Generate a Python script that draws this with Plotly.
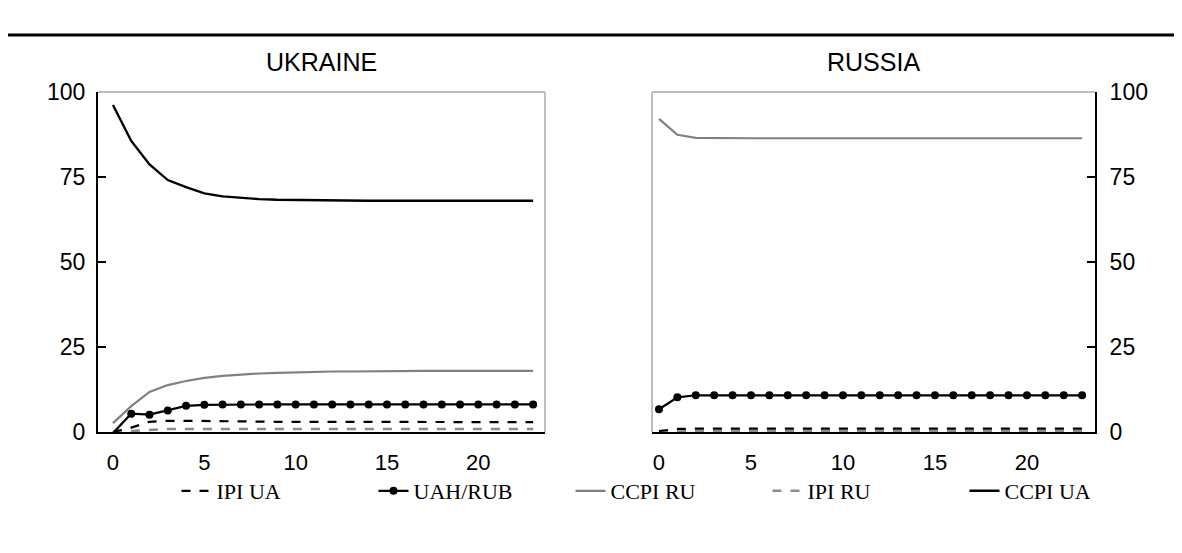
import plotly.graph_objects as go

months = list(range(24))

# Ukraine panel
ua_ipi_ua = [0.0, 1.3, 3.0, 3.3, 3.3, 3.2, 3.2, 3.1, 3.1, 3.0, 3.0, 3.0, 3.0, 3.0, 2.9, 2.9, 2.9, 2.9, 2.9, 2.9, 2.9, 2.9, 2.9, 2.9]
ua_uahrub = [-0.3, 5.4, 5.1, 6.3, 7.7, 8.0, 8.1, 8.1, 8.1, 8.1, 8.1, 8.1, 8.1, 8.1, 8.1, 8.1, 8.1, 8.1, 8.1, 8.1, 8.1, 8.1, 8.1, 8.1]
ua_ccpi_ru = [2.6, 7.6, 11.8, 13.8, 15.0, 15.9, 16.5, 16.9, 17.2, 17.4, 17.6, 17.7, 17.8, 17.8, 17.9, 17.9, 18.0, 18.0, 18.0, 18.0, 18.0, 18.0, 18.0, 18.0]
ua_ipi_ru = [0.0, 0.3, 0.8, 0.9, 0.9, 0.9, 0.9, 0.9, 0.9, 0.9, 0.9, 0.9, 0.9, 0.9, 0.9, 0.9, 0.9, 0.9, 0.9, 0.9, 0.9, 0.9, 0.9, 0.9]
ua_ccpi_ua = [96.2, 85.6, 78.7, 74.1, 72.0, 70.2, 69.3, 68.8, 68.5, 68.3, 68.2, 68.1, 68.1, 68.0, 68.0, 68.0, 68.0, 68.0, 68.0, 68.0, 68.0, 68.0, 68.0, 68.0]

# Russia panel
ru_ipi_ua = [0.3, 0.9, 1.0, 1.0, 1.0, 1.0, 1.0, 1.0, 1.0, 1.0, 1.0, 1.0, 1.0, 1.0, 1.0, 1.0, 1.0, 1.0, 1.0, 1.0, 1.0, 1.0, 1.0, 1.0]
ru_uahrub = [6.7, 10.2, 10.8, 10.8, 10.8, 10.8, 10.8, 10.8, 10.8, 10.8, 10.8, 10.8, 10.8, 10.8, 10.8, 10.8, 10.8, 10.8, 10.8, 10.8, 10.8, 10.8, 10.8, 10.8]
ru_ccpi_ru = [92.1, 87.4, 86.5, 86.4, 86.4, 86.4, 86.4, 86.4, 86.4, 86.4, 86.4, 86.4, 86.4, 86.4, 86.4, 86.4, 86.4, 86.4, 86.4, 86.4, 86.4, 86.4, 86.4, 86.4]
ru_ipi_ru = [0.0, 0.2, 0.3, 0.3, 0.3, 0.3, 0.3, 0.3, 0.3, 0.3, 0.3, 0.3, 0.3, 0.3, 0.3, 0.3, 0.3, 0.3, 0.3, 0.3, 0.3, 0.3, 0.3, 0.3]
ru_ccpi_ua = [-0.4] * 24

panel_titles = ["UKRAINE", "RUSSIA"]
y_ticks = [0, 25, 50, 75, 100]
x_ticks = [0, 5, 10, 15, 20]

styles = {
    "IPI UA": dict(color="black", width=2.2, dash="dash", marker=False),
    "UAH/RUB": dict(color="black", width=2.2, dash="solid", marker=True),
    "CCPI RU": dict(color="#808080", width=2.2, dash="solid", marker=False),
    "IPI RU": dict(color="#8c8c8c", width=2.6, dash="dash", marker=False),
    "CCPI UA": dict(color="black", width=2.4, dash="solid", marker=False),
}

panels = [
    ("x", "y", {"IPI UA": ua_ipi_ua, "UAH/RUB": ua_uahrub, "CCPI RU": ua_ccpi_ru, "IPI RU": ua_ipi_ru, "CCPI UA": ua_ccpi_ua}, True),
    ("x2", "y2", {"IPI UA": ru_ipi_ua, "UAH/RUB": ru_uahrub, "CCPI RU": ru_ccpi_ru, "IPI RU": ru_ipi_ru, "CCPI UA": ru_ccpi_ua}, False),
]

fig = go.Figure()
draw_order = ["IPI RU", "IPI UA", "CCPI RU", "CCPI UA", "UAH/RUB"]
legend_order = ["IPI UA", "UAH/RUB", "CCPI RU", "IPI RU", "CCPI UA"]
for xa, ya, series, show in panels:
    for name in draw_order:
        st = styles[name]
        fig.add_trace(go.Scatter(
            x=months, y=series[name], name=name, xaxis=xa, yaxis=ya,
            mode="lines+markers" if st["marker"] else "lines",
            line=dict(color=st["color"], width=st["width"], dash=st["dash"]),
            marker=dict(size=8, color="black"),
            cliponaxis=False,
            showlegend=show,
            legendrank=legend_order.index(name) + 1,
        ))

W, H = 1182, 553
OFF = 8  # page body margin shifts the figure by this many px


def px_x(p):
    return (p - OFF) / W


def px_y(p):
    return 1 - (p - OFF) / H


axis_font = dict(family="Liberation Sans, Arial", size=23, color="black")
xtick_font = dict(family="Liberation Sans, Arial", size=22, color="black")

fig.update_layout(
    template="none",
    width=W, height=H,
    margin=dict(l=0, r=0, t=0, b=0, autoexpand=False),
    paper_bgcolor="white", plot_bgcolor="white",
    xaxis=dict(domain=[px_x(98), px_x(545)], range=[-0.82, 23.65], tickvals=x_ticks,
               showgrid=False, zeroline=False, showline=True, linecolor="black", linewidth=2,
               ticks="", tickfont=xtick_font, ticklabelstandoff=10, anchor="y", automargin=False),
    yaxis=dict(domain=[px_y(432), px_y(92)], range=[0, 100], tickvals=y_ticks,
               showgrid=False, zeroline=False, showline=True, linecolor="black", linewidth=2,
               ticks="inside", ticklen=8, tickwidth=2, tickcolor="black",
               tickfont=axis_font, ticklabelstandoff=6, anchor="x", automargin=False),
    xaxis2=dict(domain=[px_x(652), px_x(1095)], range=[-0.38, 23.7], tickvals=x_ticks,
                showgrid=False, zeroline=False, showline=True, linecolor="black", linewidth=2,
                ticks="", tickfont=xtick_font, ticklabelstandoff=10, anchor="y2", automargin=False),
    yaxis2=dict(domain=[px_y(432), px_y(92)], range=[0, 100], tickvals=y_ticks, side="right",
                showgrid=False, zeroline=False, showline=True, linecolor="black", linewidth=2,
                ticks="inside", ticklen=8, tickwidth=2, tickcolor="black",
                tickfont=axis_font, ticklabelstandoff=8, anchor="x2", automargin=False),
    legend=dict(orientation="h", x=px_x(669), xanchor="center", y=px_y(491), yanchor="middle",
                font=dict(family="Liberation Serif, Times New Roman", size=22, color="black"),
                entrywidth=152, entrywidthmode="pixels", traceorder="normal",
                bgcolor="rgba(0,0,0,0)"),
    showlegend=True,
)

shapes = []
gray = "#bfbfbf"
shapes.append(dict(type="line", xref="x domain", yref="y domain", x0=0, x1=1, y0=1, y1=1, line=dict(color=gray, width=2)))
shapes.append(dict(type="line", xref="x domain", yref="y domain", x0=1, x1=1, y0=0, y1=1, line=dict(color=gray, width=2)))
shapes.append(dict(type="line", xref="x2 domain", yref="y2 domain", x0=0, x1=1, y0=1, y1=1, line=dict(color=gray, width=2)))
shapes.append(dict(type="line", xref="x2 domain", yref="y2 domain", x0=0, x1=0, y0=0, y1=1, line=dict(color=gray, width=2)))
shapes.append(dict(type="line", xref="paper", yref="paper", x0=px_x(8), x1=1, y0=px_y(35), y1=px_y(35), line=dict(color="black", width=3)))
fig.update_layout(shapes=shapes)

for xa, title in zip(["x", "x2"], panel_titles):
    fig.add_annotation(text=title, xref=f"{xa} domain", yref="paper", x=0.5, y=px_y(62),
                       xanchor="center", yanchor="middle", showarrow=False,
                       font=dict(family="Liberation Sans, Arial", size=25, color="black"))

fig.write_html("out.html")
